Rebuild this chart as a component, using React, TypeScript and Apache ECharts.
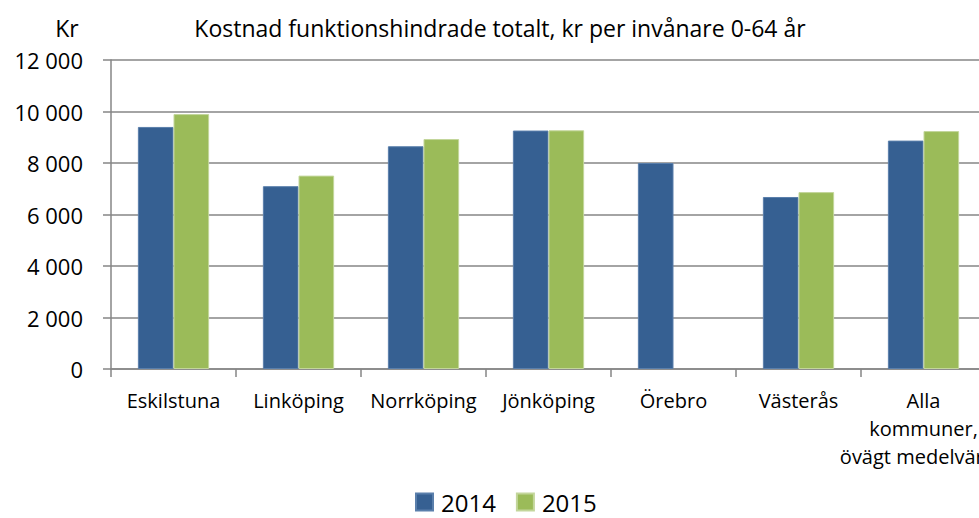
import React, { useEffect, useRef } from "react";
import * as echarts from "echarts";

const categories = [
  "Eskilstuna",
  "Linköping",
  "Norrköping",
  "Jönköping",
  "Örebro",
  "Västerås",
  "Alla\nkommuner,\növägt medelvärde",
];
const values2014 = [9400, 7100, 8650, 9260, 8000, 6680, 8870];
const values2015: (number | null)[] = [9900, 7510, 8930, 9270, null, 6870, 9240];
const seriesNames = ["2014", "2015"];
const titleText = "Kostnad funktionshindrade totalt, kr per invånare 0-64 år";
const yUnit = "Kr";

const FONT = "Open Sans";

export default function App() {
  const ref = useRef<HTMLDivElement>(null);
  useEffect(() => {
    if (!ref.current) return;
    const chart = echarts.init(ref.current, null, { renderer: "svg" });
    chart.setOption({
      animation: false,
      backgroundColor: "#ffffff",
      textStyle: { fontFamily: FONT },
      graphic: [
        {
          type: "text",
          x: 500,
          y: 28,
          style: {
            text: titleText,
            fontFamily: FONT,
            fontSize: 23,
            fill: "#000",
            align: "center",
            verticalAlign: "middle",
          },
        },
        {
          type: "text",
          x: 67,
          y: 28,
          style: {
            text: yUnit,
            fontFamily: FONT,
            fontSize: 23,
            fill: "#000",
            align: "center",
            verticalAlign: "middle",
          },
        },
      ],
      legend: {
        top: 490,
        left: 415,
        padding: 0,
        itemWidth: 17,
        itemHeight: 17,
        itemGap: 20,
        icon: "rect",
        textStyle: { fontFamily: FONT, fontSize: 24, color: "#000", padding: [0, 0, 0, 3] },
        data: seriesNames,
      },
      grid: {
        left: 111,
        right: -7,
        top: 60,
        bottom: 149,
        containLabel: false,
        outerBoundsMode: "none",
      },
      xAxis: {
        type: "category",
        data: categories,
        axisLine: { show: true, lineStyle: { color: "#868686", width: 1.5 } },
        axisTick: { show: true, length: 8, lineStyle: { color: "#868686", width: 1.5 } },
        axisLabel: {
          interval: 0,
          margin: 17,
          fontFamily: FONT,
          fontSize: 20,
          color: "#000",
          lineHeight: 28,
        },
      },
      yAxis: {
        type: "value",
        min: 0,
        max: 12000,
        interval: 2000,
        axisLine: { show: true, lineStyle: { color: "#868686", width: 1.5 } },
        axisTick: { show: true, length: 8, lineStyle: { color: "#868686", width: 1.5 } },
        splitLine: { show: true, lineStyle: { color: "#868686", width: 1.5 } },
        axisLabel: {
          margin: 28,
          fontFamily: FONT,
          fontSize: 22,
          color: "#000",
          formatter: (v: number) => String(v).replace(/\B(?=(\d{3})+(?!\d))/g, " "),
        },
      },
      series: [
        {
          name: seriesNames[0],
          type: "bar",
          data: values2014,
          barGap: "0%",
          barCategoryGap: "43%",
          itemStyle: { color: "#366092", borderColor: "#5a7fab", borderWidth: 1 },
        },
        {
          name: seriesNames[1],
          type: "bar",
          data: values2015,
          itemStyle: { color: "#9bbb59", borderColor: "#c3d69b", borderWidth: 1 },
        },
      ],
    });
    return () => chart.dispose();
  }, []);
  return (
    <div
      ref={ref}
      style={{ position: "absolute", left: 0, top: 0, width: 979, height: 518 }}
    />
  );
}
